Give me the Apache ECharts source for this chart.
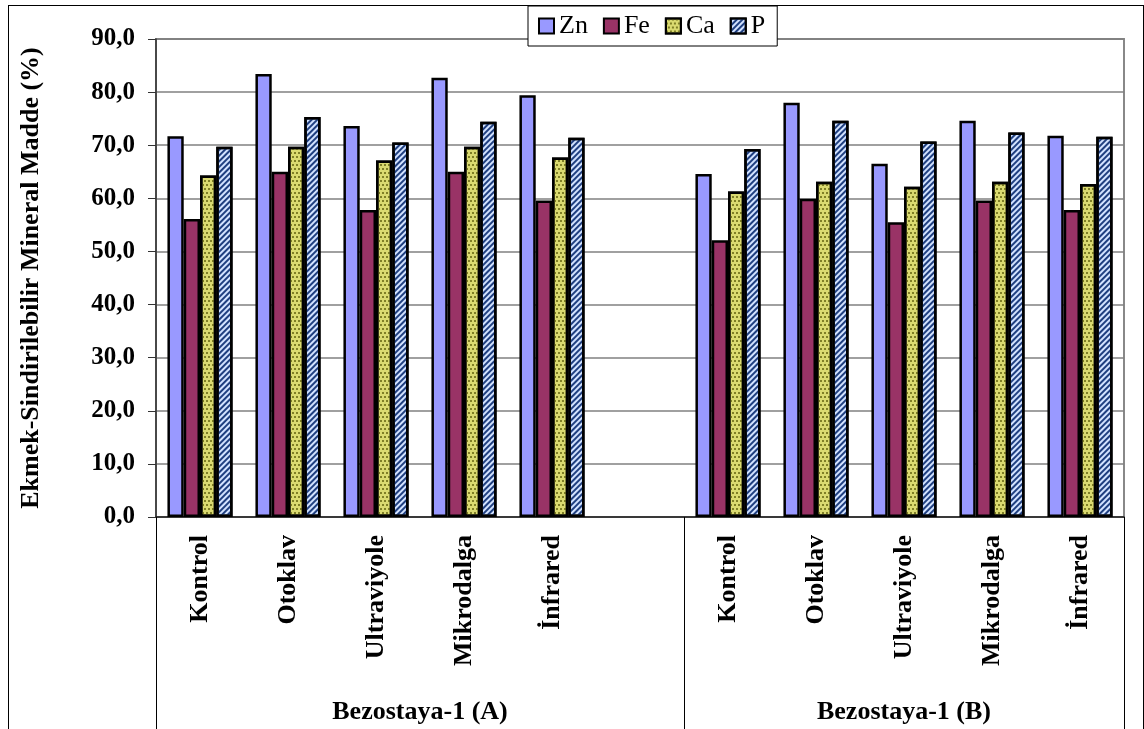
<!DOCTYPE html>
<html>
<head>
<meta charset="utf-8">
<script src="https://cdn.jsdelivr.net/npm/echarts@6/dist/echarts.min.js"></script>
<style>
html,body{margin:0;padding:0;background:#fff;}
#frame{position:absolute;left:8px;top:5px;width:1136px;height:800px;border:1px solid #000;box-sizing:border-box;}
#chart{position:absolute;left:0;top:0;width:1144px;height:729px;}
</style>
</head>
<body>
<div id="frame"></div>
<div id="chart"></div>
<script>
const categories = ['Kontrol','Otoklav','Ultraviyole','Mikrodalga','İnfrared','','Kontrol','Otoklav','Ultraviyole','Mikrodalga','İnfrared'];
const groupLabels = ['Bezostaya-1 (A)','Bezostaya-1 (B)'];
const groupBounds = [0, 6, 11];
const groupCenters = [3, 8.5];
const yTicks = [0,10,20,30,40,50,60,70,80,90];
const seriesNames = ['Zn','Fe','Ca','P'];
const zn = [71.7, 83.4, 73.6, 82.7, 79.4, null, 64.6, 78.0, 66.5, 74.6, 71.8];
const fe = [56.1, 65.0, 57.8, 65.0, 59.6, null, 52.1, 59.9, 55.5, 59.6, 57.8];
const ca = [64.3, 69.7, 67.1, 69.7, 67.7, null, 61.3, 63.1, 62.2, 63.1, 62.7];
const p  = [69.7, 75.3, 70.5, 74.4, 71.4, null, 69.3, 74.6, 70.7, 72.4, 71.6];

const FONT = 'Liberation Serif, Times New Roman, serif';
const chart = echarts.init(document.getElementById('chart'), null, {renderer:'canvas'});

const styles = [
  {color:'#9999FF'},
  {color:'#993366'},
  {color:'#DADA70', decal:{symbol:'rect', symbolSize:1, dashArrayX:[[2,2],[0,2,2,0]], dashArrayY:[2,2], color:'#7F7F26'}},
  {color:'#D2E2FF', decal:{symbol:'rect', symbolSize:1, dashArrayX:[1,0], dashArrayY:[2,2], rotation:-Math.PI/4, color:'#1F3F80'}}
];
const values = [zn, fe, ca, p];

const option = {
  animation:false,
  backgroundColor:'transparent',
  legend:{
    data:seriesNames,
    left:528, top:6,
    itemWidth:15, itemHeight:15, itemGap:15,
    padding:[7,12,7,10],
    borderColor:'#000', borderWidth:1, backgroundColor:'#fff',
    icon:'rect',
    itemStyle:{borderColor:'#000', borderWidth:2},
    textStyle:{fontFamily:FONT, fontSize:26, color:'#000'}
  },
  grid:{left:156, right:20, top:39, bottom:212, show:true, borderColor:'#888', borderWidth:2, backgroundColor:'#fff'},
  xAxis:[{
    type:'category',
    data:categories,
    boundaryGap:true,
    axisLine:{show:true, lineStyle:{color:'#222', width:1.5}},
    axisTick:{show:false},
    axisLabel:{interval:0, rotate:90, margin:18, fontFamily:FONT, fontWeight:'bold', fontSize:26, color:'#000'}
  },{
    type:'value',
    min:0, max:11,
    position:'bottom',
    axisLine:{show:false},
    splitLine:{show:false},
    axisTick:{show:true, customValues:groupBounds, length:215, lineStyle:{color:'#000', width:1}},
    axisLabel:{customValues:groupCenters, margin:182, fontFamily:FONT, fontWeight:'bold', fontSize:26, color:'#000',
      formatter:function(v){ return groupLabels[groupCenters.indexOf(v)] || ''; }}
  }],
  yAxis:{
    type:'value',
    min:yTicks[0], max:yTicks[yTicks.length-1], interval:10,
    name:'Ekmek-Sindirilebilir Mineral Madde (%)',
    nameLocation:'middle', nameGap:112,
    nameTextStyle:{fontFamily:FONT, fontWeight:'bold', fontSize:26, color:'#000'},
    axisLine:{show:true, lineStyle:{color:'#333', width:1.5}},
    axisTick:{show:true, length:8, lineStyle:{color:'#333'}},
    axisLabel:{margin:21, fontFamily:FONT, fontWeight:'bold', fontSize:25, color:'#000',
      formatter:function(v){ return v.toFixed(1).replace('.',','); }},
    splitLine:{show:true, lineStyle:{color:'#808080', width:1.5}}
  },
  series: seriesNames.map(function(n,i){
    return {
      name:n, type:'bar', xAxisIndex:0,
      data:values[i],
      barGap:'0%', barCategoryGap:'26%',
      itemStyle:Object.assign({borderColor:'#000', borderWidth:2.5}, styles[i])
    };
  })
};
chart.setOption(option);
</script>
</body>
</html>
